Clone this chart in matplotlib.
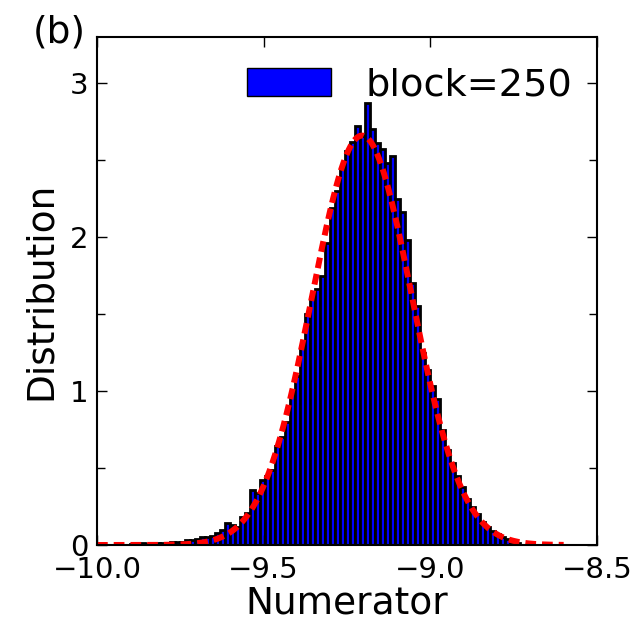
import numpy as np
import matplotlib
matplotlib.use("Agg")
import matplotlib.pyplot as plt
from matplotlib.ticker import MultipleLocator, FuncFormatter

# histogram: first bin edge, bin width, densities
bin_start = -9.90
bin_width = 0.015
density = [
    0.005, 0.005, 0.01, 0.005, 0.01, 0.01, 0.01, 0.015, 0.02, 0.02,
    0.02, 0.03, 0.03, 0.04, 0.05, 0.05, 0.06, 0.08, 0.10, 0.14,
    0.13, 0.12, 0.18, 0.21, 0.36, 0.34, 0.42, 0.45, 0.49, 0.64,
    0.70, 0.80, 0.99, 1.10, 1.29, 1.50, 1.61, 1.66, 1.75, 1.96,
    2.19, 2.30, 2.45, 2.56, 2.62, 2.72, 2.66, 2.87, 2.70, 2.61,
    2.57, 2.48, 2.53, 2.25, 2.16, 1.98, 1.70, 1.55, 1.25, 1.14,
    1.03, 0.95, 0.75, 0.62, 0.53, 0.45, 0.38, 0.30, 0.25, 0.20,
    0.15, 0.12, 0.09, 0.07, 0.05, 0.04, 0.02, 0.01,
]

# gaussian fit (red dashed line)
fit_mean = -9.205
fit_sigma = 0.15
fit_range = (-10.0, -8.6)

edges = bin_start + bin_width * np.arange(len(density))

fig = plt.figure(figsize=(6.44, 6.23), dpi=100)
ax = fig.add_axes([0.1506, 0.1252, 0.7764, 0.8154])

ax.bar(edges, density, width=bin_width, align='edge', color='#0000ff',
       edgecolor='black', linewidth=2.0, label='block=250')

xf = np.linspace(fit_range[0], fit_range[1], 400)
yf = np.exp(-(xf - fit_mean)**2 / (2*fit_sigma**2)) / (fit_sigma*np.sqrt(2*np.pi))
ax.plot(xf, yf, color='red', linestyle='--', linewidth=4.3, dashes=(1.8, 1.0))

ax.set_xlim(-10.0, -8.5)
ax.set_ylim(0, 3.3)
ax.set_xticks([-10.0, -9.5, -9.0, -8.5])
ax.xaxis.set_major_formatter(FuncFormatter(lambda v, p: f"{v:.1f}".replace('-', '\u2212')))
ax.yaxis.set_major_locator(MultipleLocator(1))
ax.yaxis.set_minor_locator(MultipleLocator(0.5))

ax.tick_params(which='both', direction='in', top=True, right=True, labelsize=21, width=1.0)
ax.tick_params(which='major', length=7, pad=6)
ax.tick_params(axis='x', which='major', pad=8)
ax.tick_params(which='minor', length=6)
for s in ax.spines.values():
    s.set_linewidth(1.5)

ax.set_xlabel('Numerator', fontsize=27, labelpad=1)
ax.set_ylabel('Distribution', fontsize=27, labelpad=8)

leg = ax.legend(loc='center left', bbox_to_anchor=(0.30, 0.905), frameon=False,
                fontsize=27.5, borderpad=0, borderaxespad=0, handlelength=2.2,
                handleheight=0.72, handletextpad=0.9)
leg.get_patches()[0].set_linewidth(1.0)

fig.text(0.092, 0.948, '(b)', fontsize=27, ha='center', va='center')

fig.savefig('out.png', dpi=100)
